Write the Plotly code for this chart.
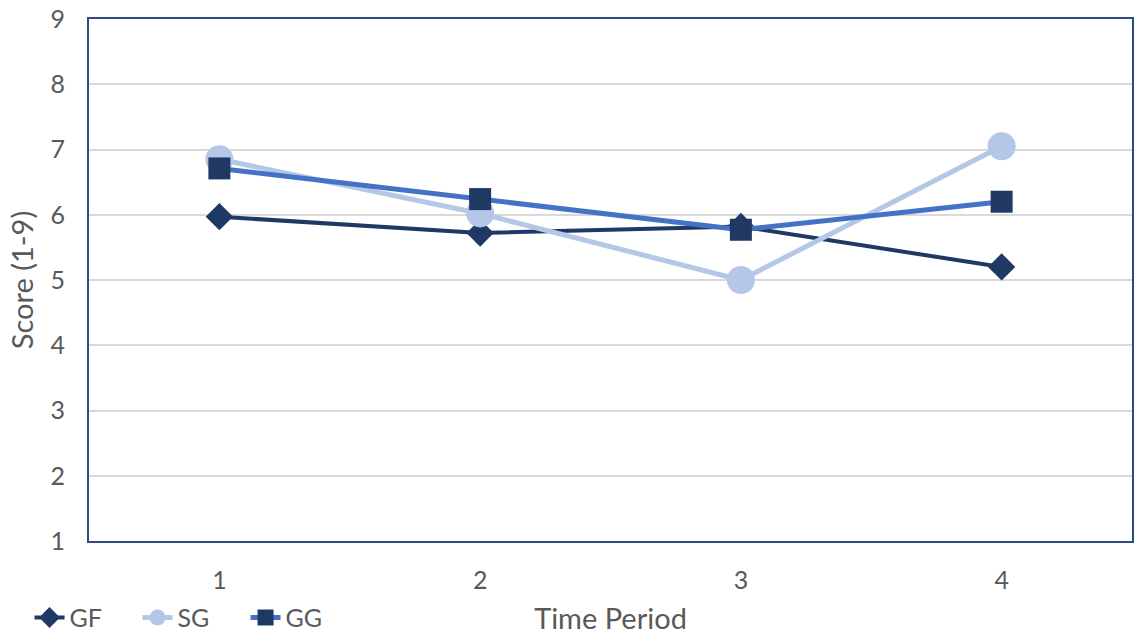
import plotly.graph_objects as go

periods = [1, 2, 3, 4]
gf = [5.97, 5.72, 5.82, 5.20]
sg = [6.85, 6.02, 5.00, 7.05]
gg = [6.71, 6.24, 5.77, 6.20]
y_ticks = [1, 2, 3, 4, 5, 6, 7, 8, 9]

FONT = "Lato"
TXT = "#595959"
TICK_FS = 25
TITLE_FS = 29
LEG_FS = 25

fig = go.Figure()
fig.add_trace(go.Scatter(x=periods, y=gf, name="GF", mode="lines+markers",
                         line=dict(color="#203864", width=4),
                         marker=dict(symbol="diamond", size=21, color="#203864")))
fig.add_trace(go.Scatter(x=periods, y=sg, name="SG", mode="lines+markers",
                         line=dict(color="#B4C7E7", width=5),
                         marker=dict(symbol="circle", size=28, color="#B4C7E7")))
fig.add_trace(go.Scatter(x=periods, y=gg, name="GG", mode="lines+markers",
                         line=dict(color="#4472C4", width=5),
                         marker=dict(symbol="square", size=22, color="#203864")))

fig.update_layout(
    width=1139, height=643,
    margin=dict(l=89, r=7, t=19, b=102, autoexpand=False),
    paper_bgcolor="white", plot_bgcolor="white",
    font=dict(family=FONT, size=TICK_FS, color=TXT),
    showlegend=True,
    legend=dict(orientation="h", x=-0.057, y=-0.147, xanchor="left", yanchor="middle",
                font=dict(size=LEG_FS, color=TXT), entrywidth=63, entrywidthmode="pixels",
                tracegroupgap=0, bgcolor="rgba(0,0,0,0)"),
)
fig.update_xaxes(range=[0.5, 4.5], tickvals=periods, ticktext=[str(p) for p in periods],
                 showgrid=False, zeroline=False, showline=True, mirror=True, automargin=False,
                 linecolor="#2F4B80", linewidth=2, ticks="", ticklabelstandoff=16,
                 ticklabeloverflow="allow",
                 title=dict(text="Time Period", standoff=16, font=dict(size=TITLE_FS, color=TXT)),
                 tickfont=dict(size=TICK_FS, color=TXT))
fig.update_yaxes(range=[1, 9], tickvals=y_ticks, showgrid=True, gridcolor="#D9D9D9", gridwidth=2,
                 zeroline=False, showline=True, mirror=True, automargin=False,
                 linecolor="#2F4B80", linewidth=2, ticks="", ticklabelstandoff=17,
                 ticklabeloverflow="allow",
                 title=dict(text="Score (1-9)", standoff=8, font=dict(size=TITLE_FS, color=TXT)),
                 tickfont=dict(size=TICK_FS, color=TXT))

fig.write_html("out.html", config={"displayModeBar": False},
               post_script="document.body.style.margin='0';document.body.style.overflow='hidden';")
